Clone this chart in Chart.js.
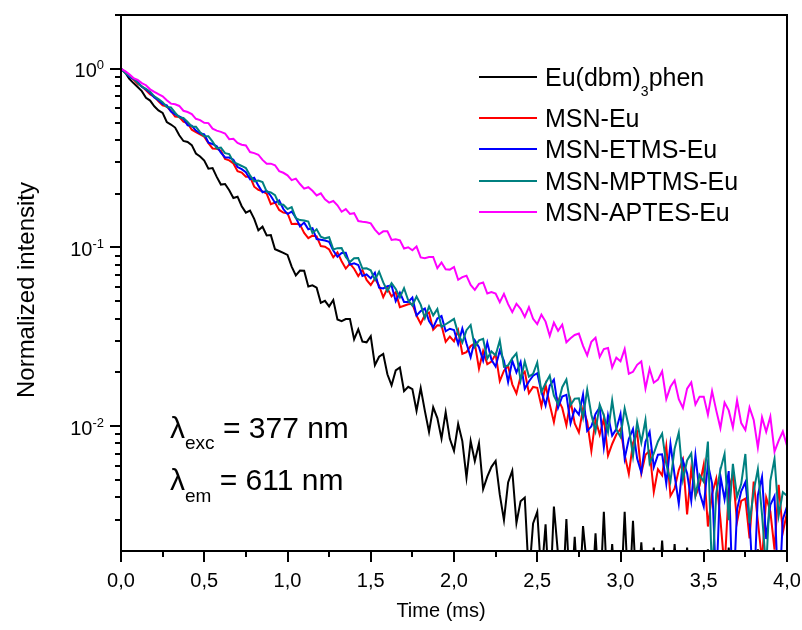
<!DOCTYPE html>
<html>
<head>
<meta charset="utf-8">
<script src="https://cdn.jsdelivr.net/npm/chart.js@4"></script>
<style>
  html, body { margin: 0; padding: 0; background: #ffffff; }
  #wrap { width: 802px; height: 630px; }
</style>
</head>
<body>
<div id="wrap"><canvas id="decay" width="802" height="630"></canvas></div>
<script>
// Sampling times (ms)
const timeMs = [
  0,0.025,0.05,0.075,0.1,0.125,0.15,0.175,0.2,0.225,
  0.25,0.275,0.3,0.325,0.35,0.375,0.4,0.425,0.45,0.475,
  0.5,0.525,0.55,0.575,0.6,0.625,0.65,0.675,0.7,0.725,
  0.75,0.775,0.8,0.825,0.85,0.875,0.9,0.925,0.95,0.975,
  1,1.025,1.05,1.075,1.1,1.125,1.15,1.175,1.2,1.225,
  1.25,1.275,1.3,1.325,1.35,1.375,1.4,1.425,1.45,1.475,
  1.5,1.525,1.55,1.575,1.6,1.625,1.65,1.675,1.7,1.725,
  1.75,1.775,1.8,1.825,1.85,1.875,1.9,1.925,1.95,1.975,
  2,2.025,2.05,2.075,2.1,2.125,2.15,2.175,2.2,2.225,
  2.25,2.275,2.3,2.325,2.35,2.375,2.4,2.425,2.45,2.475,
  2.5,2.525,2.55,2.575,2.6,2.625,2.65,2.675,2.7,2.725,
  2.75,2.775,2.8,2.825,2.85,2.875,2.9,2.925,2.95,2.975,
  3,3.025,3.05,3.075,3.1,3.125,3.15,3.175,3.2,3.225,
  3.25,3.275,3.3,3.325,3.35,3.375,3.4,3.425,3.45,3.475,
  3.5,3.525,3.55,3.575,3.6,3.625,3.65,3.675,3.7,3.725,
  3.75,3.775,3.8,3.825,3.85,3.875,3.9,3.925,3.95,3.975,
  4
];

// Decay traces, stored as log10 of the normalized intensity
const logEuDbmPhen = [
  0,-0.020,-0.056,-0.080,-0.102,-0.125,-0.162,-0.178,-0.210,-0.233,
  -0.247,-0.298,-0.312,-0.329,-0.372,-0.404,-0.410,-0.427,-0.474,-0.491,
  -0.514,-0.559,-0.556,-0.605,-0.648,-0.645,-0.680,-0.723,-0.716,-0.769,
  -0.805,-0.794,-0.840,-0.904,-0.884,-0.933,-0.931,-1.010,-1.020,-1.030,
  -1.042,-1.107,-1.156,-1.129,-1.130,-1.219,-1.212,-1.225,-1.310,-1.299,
  -1.330,-1.294,-1.403,-1.412,-1.401,-1.400,-1.514,-1.458,-1.527,-1.531,
  -1.497,-1.659,-1.612,-1.596,-1.710,-1.772,-1.688,-1.672,-1.804,-1.780,
  -1.793,-1.914,-1.787,-1.915,-2.033,-1.895,-1.955,-2.070,-1.922,-2.071,
  -2.138,-1.988,-2.084,-2.288,-2.084,-2.196,-2.096,-2.353,-2.283,-2.228,
  -2.195,-2.384,-2.526,-2.315,-2.250,-2.542,-2.420,-2.400,-2.850,-2.545,
  -2.48,-2.85,-2.55,-3.0,-2.45,-2.72,-3.0,-2.52,-3.0,-2.62,
  -3.0,-2.56,-2.80,-3.0,-2.60,-3.0,-2.48,-3.0,-2.66,-3.0,
  -3.0,-2.48,-3.0,-2.53,-3.0,-2.65,-3.0,-3.0,-2.68,-3.0,
  -2.64,-3.0,-3.0,-2.66,-3.0,-3.0,-2.68,-3.0,-3.0,-3.0,
  -3.0,-2.69,-3.0,-3.0,-3.0,-3.0,-2.68,-3.0,-3.0,-3.0,
  -3.0,-3.0,-3.0,-2.69,-3.0,-3.0,-3.0,-3.0,-3.0,-3.0,
  -3.0
];
const logMsnEu = [
  0,-0.023,-0.036,-0.061,-0.085,-0.098,-0.120,-0.144,-0.155,-0.182,
  -0.205,-0.211,-0.236,-0.267,-0.270,-0.296,-0.305,-0.341,-0.354,-0.367,
  -0.380,-0.416,-0.446,-0.447,-0.459,-0.504,-0.513,-0.530,-0.573,-0.581,
  -0.604,-0.603,-0.660,-0.677,-0.686,-0.699,-0.758,-0.749,-0.790,-0.805,
  -0.808,-0.869,-0.868,-0.872,-0.919,-0.948,-0.934,-0.938,-0.992,-0.996,
  -1.011,-1.055,-1.027,-1.077,-1.118,-1.090,-1.119,-1.160,-1.126,-1.182,
  -1.210,-1.174,-1.214,-1.278,-1.230,-1.274,-1.250,-1.334,-1.326,-1.318,
  -1.315,-1.381,-1.427,-1.378,-1.364,-1.460,-1.436,-1.437,-1.528,-1.499,
  -1.526,-1.465,-1.595,-1.586,-1.552,-1.537,-1.678,-1.579,-1.653,-1.639,
  -1.597,-1.748,-1.690,-1.663,-1.766,-1.817,-1.722,-1.695,-1.816,-1.781,
  -1.786,-1.888,-1.770,-1.879,-1.978,-1.850,-1.898,-1.995,-1.858,-1.985,
  -2.035,-1.903,-1.976,-2.139,-1.962,-2.048,-1.958,-2.165,-2.100,-2.047,
  -2.016,-2.161,-2.268,-2.094,-2.036,-2.264,-2.160,-2.138,-2.368,-2.242,
  -2.276,-2.112,-2.391,-2.349,-2.246,-2.188,-2.494,-2.240,-2.391,-2.334,
  -2.216,-2.562,-2.380,-2.294,-2.520,-2.800,-2.356,-2.270,-2.536,-2.418,
  -2.406,-2.628,-2.310,-2.532,-2.754,-2.400,-2.478,-2.691,-2.328,-2.595,
  -2.484
];
const logMsnEtmsEu = [
  0,-0.021,-0.044,-0.057,-0.073,-0.101,-0.116,-0.134,-0.161,-0.176,
  -0.197,-0.204,-0.239,-0.255,-0.266,-0.280,-0.316,-0.319,-0.346,-0.361,
  -0.367,-0.413,-0.421,-0.433,-0.470,-0.496,-0.497,-0.509,-0.550,-0.562,
  -0.579,-0.619,-0.610,-0.654,-0.691,-0.683,-0.712,-0.750,-0.737,-0.785,
  -0.813,-0.799,-0.833,-0.882,-0.861,-0.898,-0.892,-0.953,-0.957,-0.961,
  -0.969,-1.017,-1.052,-1.031,-1.030,-1.096,-1.089,-1.098,-1.160,-1.151,
  -1.173,-1.141,-1.225,-1.229,-1.217,-1.213,-1.301,-1.253,-1.305,-1.305,
  -1.280,-1.381,-1.356,-1.342,-1.412,-1.448,-1.398,-1.384,-1.469,-1.455,
  -1.462,-1.541,-1.454,-1.538,-1.614,-1.520,-1.558,-1.633,-1.532,-1.629,
  -1.666,-1.578,-1.634,-1.753,-1.634,-1.699,-1.641,-1.791,-1.750,-1.718,
  -1.704,-1.806,-1.884,-1.773,-1.740,-1.897,-1.834,-1.825,-1.984,-1.905,
  -1.936,-1.823,-2.027,-2.001,-1.932,-1.895,-2.118,-1.941,-2.053,-2.017,
  -1.932,-2.181,-2.072,-2.016,-2.182,-2.260,-2.088,-2.032,-2.230,-2.160,
  -2.158,-2.322,-2.100,-2.275,-2.434,-2.195,-2.264,-2.418,-2.164,-2.372,
  -2.450,-2.213,-2.320,-2.900,-2.278,-2.409,-2.252,-3.000,-2.466,-2.365,
  -2.314,-2.527,-2.950,-2.386,-2.284,-2.632,-2.440,-2.392,-3.000,-2.521,
  -2.450
];
const logMsnMptmsEu = [
  0,-0.023,-0.038,-0.054,-0.079,-0.100,-0.112,-0.128,-0.154,-0.170,
  -0.187,-0.214,-0.217,-0.246,-0.272,-0.275,-0.297,-0.323,-0.324,-0.355,
  -0.378,-0.378,-0.407,-0.445,-0.441,-0.472,-0.477,-0.522,-0.533,-0.544,
  -0.556,-0.597,-0.630,-0.625,-0.634,-0.687,-0.692,-0.707,-0.758,-0.761,
  -0.785,-0.774,-0.836,-0.847,-0.849,-0.855,-0.919,-0.898,-0.940,-0.949,
  -0.943,-1.011,-1.004,-1.003,-1.053,-1.082,-1.060,-1.059,-1.118,-1.117,
  -1.128,-1.180,-1.136,-1.196,-1.244,-1.200,-1.232,-1.280,-1.228,-1.296,
  -1.325,-1.275,-1.320,-1.395,-1.330,-1.380,-1.345,-1.445,-1.430,-1.415,
  -1.400,-1.482,-1.532,-1.463,-1.434,-1.556,-1.520,-1.512,-1.622,-1.582,
  -1.604,-1.520,-1.667,-1.660,-1.621,-1.593,-1.744,-1.638,-1.723,-1.708,
  -1.644,-1.809,-1.760,-1.717,-1.830,-1.877,-1.782,-1.739,-1.882,-1.846,
  -1.844,-1.952,-1.796,-1.936,-2.028,-1.880,-1.940,-2.034,-1.856,-2.018,
  -2.060,-1.901,-2.003,-2.168,-1.978,-2.092,-1.966,-2.208,-2.152,-2.086,
  -2.042,-2.213,-2.308,-2.126,-2.036,-2.299,-2.192,-2.153,-2.388,-2.273,
  -2.312,-2.086,-2.850,-2.377,-2.244,-2.156,-2.526,-2.211,-2.396,-2.323,
  -2.156,-2.544,-2.364,-2.241,-2.495,-2.800,-2.306,-2.183,-2.500,-2.370,
  -2.390
];
const logMsnAptesEu = [
  0,-0.013,-0.031,-0.052,-0.062,-0.080,-0.092,-0.115,-0.129,-0.142,
  -0.154,-0.176,-0.195,-0.199,-0.208,-0.235,-0.242,-0.254,-0.280,-0.287,
  -0.302,-0.304,-0.335,-0.346,-0.353,-0.362,-0.394,-0.392,-0.415,-0.425,
  -0.429,-0.466,-0.472,-0.481,-0.510,-0.531,-0.531,-0.540,-0.573,-0.582,
  -0.596,-0.623,-0.615,-0.645,-0.671,-0.663,-0.683,-0.709,-0.697,-0.731,
  -0.749,-0.740,-0.764,-0.800,-0.785,-0.812,-0.808,-0.852,-0.856,-0.859,
  -0.865,-0.900,-0.926,-0.910,-0.910,-0.958,-0.954,-0.960,-1.006,-0.999,
  -1.016,-0.995,-1.056,-1.060,-1.054,-1.053,-1.116,-1.084,-1.122,-1.124,
  -1.109,-1.181,-1.166,-1.158,-1.210,-1.237,-1.204,-1.196,-1.258,-1.250,
  -1.258,-1.307,-1.260,-1.317,-1.362,-1.315,-1.344,-1.389,-1.334,-1.399,
  -1.429,-1.376,-1.415,-1.495,-1.421,-1.466,-1.432,-1.531,-1.508,-1.490,
  -1.482,-1.551,-1.604,-1.528,-1.505,-1.613,-1.569,-1.563,-1.672,-1.617,
  -1.637,-1.569,-1.707,-1.696,-1.657,-1.638,-1.789,-1.679,-1.757,-1.740,
  -1.693,-1.848,-1.780,-1.745,-1.849,-1.898,-1.790,-1.755,-1.879,-1.835,
  -1.835,-1.936,-1.804,-1.912,-2.011,-1.868,-1.912,-2.007,-1.855,-1.983,
  -2.022,-1.896,-1.965,-2.120,-1.951,-2.032,-1.947,-2.143,-2.081,-2.030,
  -2.110
];

const seriesNames = ['Eu(dbm)3phen', 'MSN-Eu', 'MSN-ETMS-Eu', 'MSN-MPTMS-Eu', 'MSN-APTES-Eu'];
const legendMarkup = ['Eu(dbm)<sub>3</sub>phen', 'MSN-Eu', 'MSN-ETMS-Eu', 'MSN-MPTMS-Eu', 'MSN-APTES-Eu'];
const seriesLogs = [logEuDbmPhen, logMsnEu, logMsnEtmsEu, logMsnMptmsEu, logMsnAptesEu];
const seriesColors = ['#000000', '#ff0000', '#0000ff', '#008080', '#ff00ff'];
const seriesOrder = [5, 4, 3, 2, 1];   // lower order is painted on top

const xMajorTicks = [0, 0.5, 1, 1.5, 2, 2.5, 3, 3.5, 4];
const yDecadeTicks = [0.01, 0.1, 1];
const yDecadeExponents = ['-2', '-1', '0'];

const FONT = '"Liberation Sans", Arial, Helvetica, sans-serif';

const datasets = seriesLogs.map((logs, i) => ({
  label: seriesNames[i],
  data: timeMs.map((t, k) => ({ x: t, y: Math.pow(10, logs[k]) })),
  borderColor: seriesColors[i],
  backgroundColor: seriesColors[i],
  borderWidth: 2,
  pointRadius: 0,
  tension: 0,
  fill: false,
  order: seriesOrder[i],
  clip: 0
}));

// Draw text with <sub>..</sub> / <sup>..</sup> runs
function drawRich(ctx, markup, x, y, size, smallSize, subDy, supDy) {
  const re = /<(sub|sup)>(.*?)<\/\1>/g;
  let last = 0, m, cx = x;
  const runs = [];
  while ((m = re.exec(markup)) !== null) {
    if (m.index > last) runs.push({ t: markup.slice(last, m.index), k: '' });
    runs.push({ t: m[2], k: m[1] });
    last = re.lastIndex;
  }
  if (last < markup.length) runs.push({ t: markup.slice(last), k: '' });
  ctx.textAlign = 'left';
  ctx.textBaseline = 'alphabetic';
  for (const r of runs) {
    const s = r.k ? smallSize : size;
    ctx.font = s + 'px ' + FONT;
    const dy = r.k === 'sub' ? subDy : (r.k === 'sup' ? supDy : 0);
    ctx.fillText(r.t, cx, y + dy);
    cx += ctx.measureText(r.t).width;
  }
  return cx;
}

const decorations = {
  id: 'decorations',
  afterDatasetsDraw(chart) {
    const ctx = chart.ctx;
    const a = chart.chartArea;
    const xs = chart.scales.x, ys = chart.scales.y;
    ctx.save();
    ctx.strokeStyle = '#000000';
    ctx.fillStyle = '#000000';
    ctx.lineWidth = 2;
    ctx.lineCap = 'butt';

    // frame
    ctx.strokeRect(a.left, a.top, a.right - a.left, a.bottom - a.top);

    // x ticks: major every 0.5, minor halfway between
    for (let i = 0; i < xMajorTicks.length; i++) {
      const px = Math.round(xs.getPixelForValue(xMajorTicks[i]));
      ctx.beginPath(); ctx.moveTo(px, a.bottom); ctx.lineTo(px, a.bottom + 11); ctx.stroke();
      if (i < xMajorTicks.length - 1) {
        const mx = Math.round(xs.getPixelForValue((xMajorTicks[i] + xMajorTicks[i + 1]) / 2));
        ctx.beginPath(); ctx.moveTo(mx, a.bottom); ctx.lineTo(mx, a.bottom + 6); ctx.stroke();
      }
    }
    // x tick labels
    ctx.font = '20px ' + FONT;
    ctx.textAlign = 'center';
    ctx.textBaseline = 'alphabetic';
    for (const v of xMajorTicks) {
      ctx.fillText(v.toFixed(1).replace('.', ','), xs.getPixelForValue(v), 587);
    }

    // y ticks: decades long, 2..9 multiples short
    for (let e = -3; e <= 0; e++) {
      for (let m = 1; m <= 9; m++) {
        const v = m * Math.pow(10, e);
        if (v <= ys.min * 1.001 || v > ys.max) continue;
        const py = Math.round(ys.getPixelForValue(v));
        const len = m === 1 ? 11 : 6;
        ctx.beginPath(); ctx.moveTo(a.left - len, py); ctx.lineTo(a.left, py); ctx.stroke();
      }
    }
    // y tick labels 10^n
    yDecadeTicks.forEach((v, i) => {
      const py = ys.getPixelForValue(v);
      ctx.font = '13px ' + FONT;
      const supW = ctx.measureText(yDecadeExponents[i]).width;
      ctx.font = '20px ' + FONT;
      const baseW = ctx.measureText('10').width;
      const x0 = 104 - supW - baseW;
      drawRich(ctx, '10<sup>' + yDecadeExponents[i] + '</sup>', x0, py + 8.5, 20, 13, 0, -8);
    });

    // axis titles
    ctx.font = '20px ' + FONT;
    ctx.textAlign = 'center';
    ctx.textBaseline = 'alphabetic';
    ctx.fillText('Time (ms)', 441, 617);
    ctx.save();
    ctx.font = '24px ' + FONT;
    ctx.translate(34, 290);
    ctx.rotate(-Math.PI / 2);
    ctx.fillText('Normalized intensity', 0, 0);
    ctx.restore();

    // legend
    const rowY = [77, 118, 149, 181, 212];
    chart.data.datasets.forEach((ds, i) => {
      ctx.strokeStyle = ds.borderColor;
      ctx.lineWidth = 2;
      ctx.beginPath(); ctx.moveTo(479, rowY[i]); ctx.lineTo(537, rowY[i]); ctx.stroke();
      ctx.fillStyle = '#000000';
      drawRich(ctx, legendMarkup[i], 545, rowY[i] + 9, 25, 14, 10, 0);
    });

    // excitation / emission wavelengths
    ctx.fillStyle = '#000000';
    let cx = drawRich(ctx, 'λ<sub>exc</sub>', 170, 438, 30, 19, 11, 0);
    ctx.font = '30px ' + FONT;
    ctx.fillText(' = 377 nm', cx, 438);
    cx = drawRich(ctx, 'λ<sub>em</sub>', 170, 490, 30, 19, 12, 0);
    ctx.font = '30px ' + FONT;
    ctx.fillText(' = 611 nm', cx, 490);

    ctx.restore();
  }
};

new Chart(document.getElementById('decay'), {
  type: 'line',
  data: { datasets },
  options: {
    responsive: false,
    animation: false,
    devicePixelRatio: 1,
    layout: { padding: { left: 121, right: 15, top: 15, bottom: 79 } },
    plugins: { legend: { display: false }, tooltip: { enabled: false } },
    scales: {
      x: { type: 'linear', min: 0, max: 4, display: false },
      y: { type: 'logarithmic', min: 0.002, max: 2, display: false }
    }
  },
  plugins: [decorations]
});
</script>
</body>
</html>
